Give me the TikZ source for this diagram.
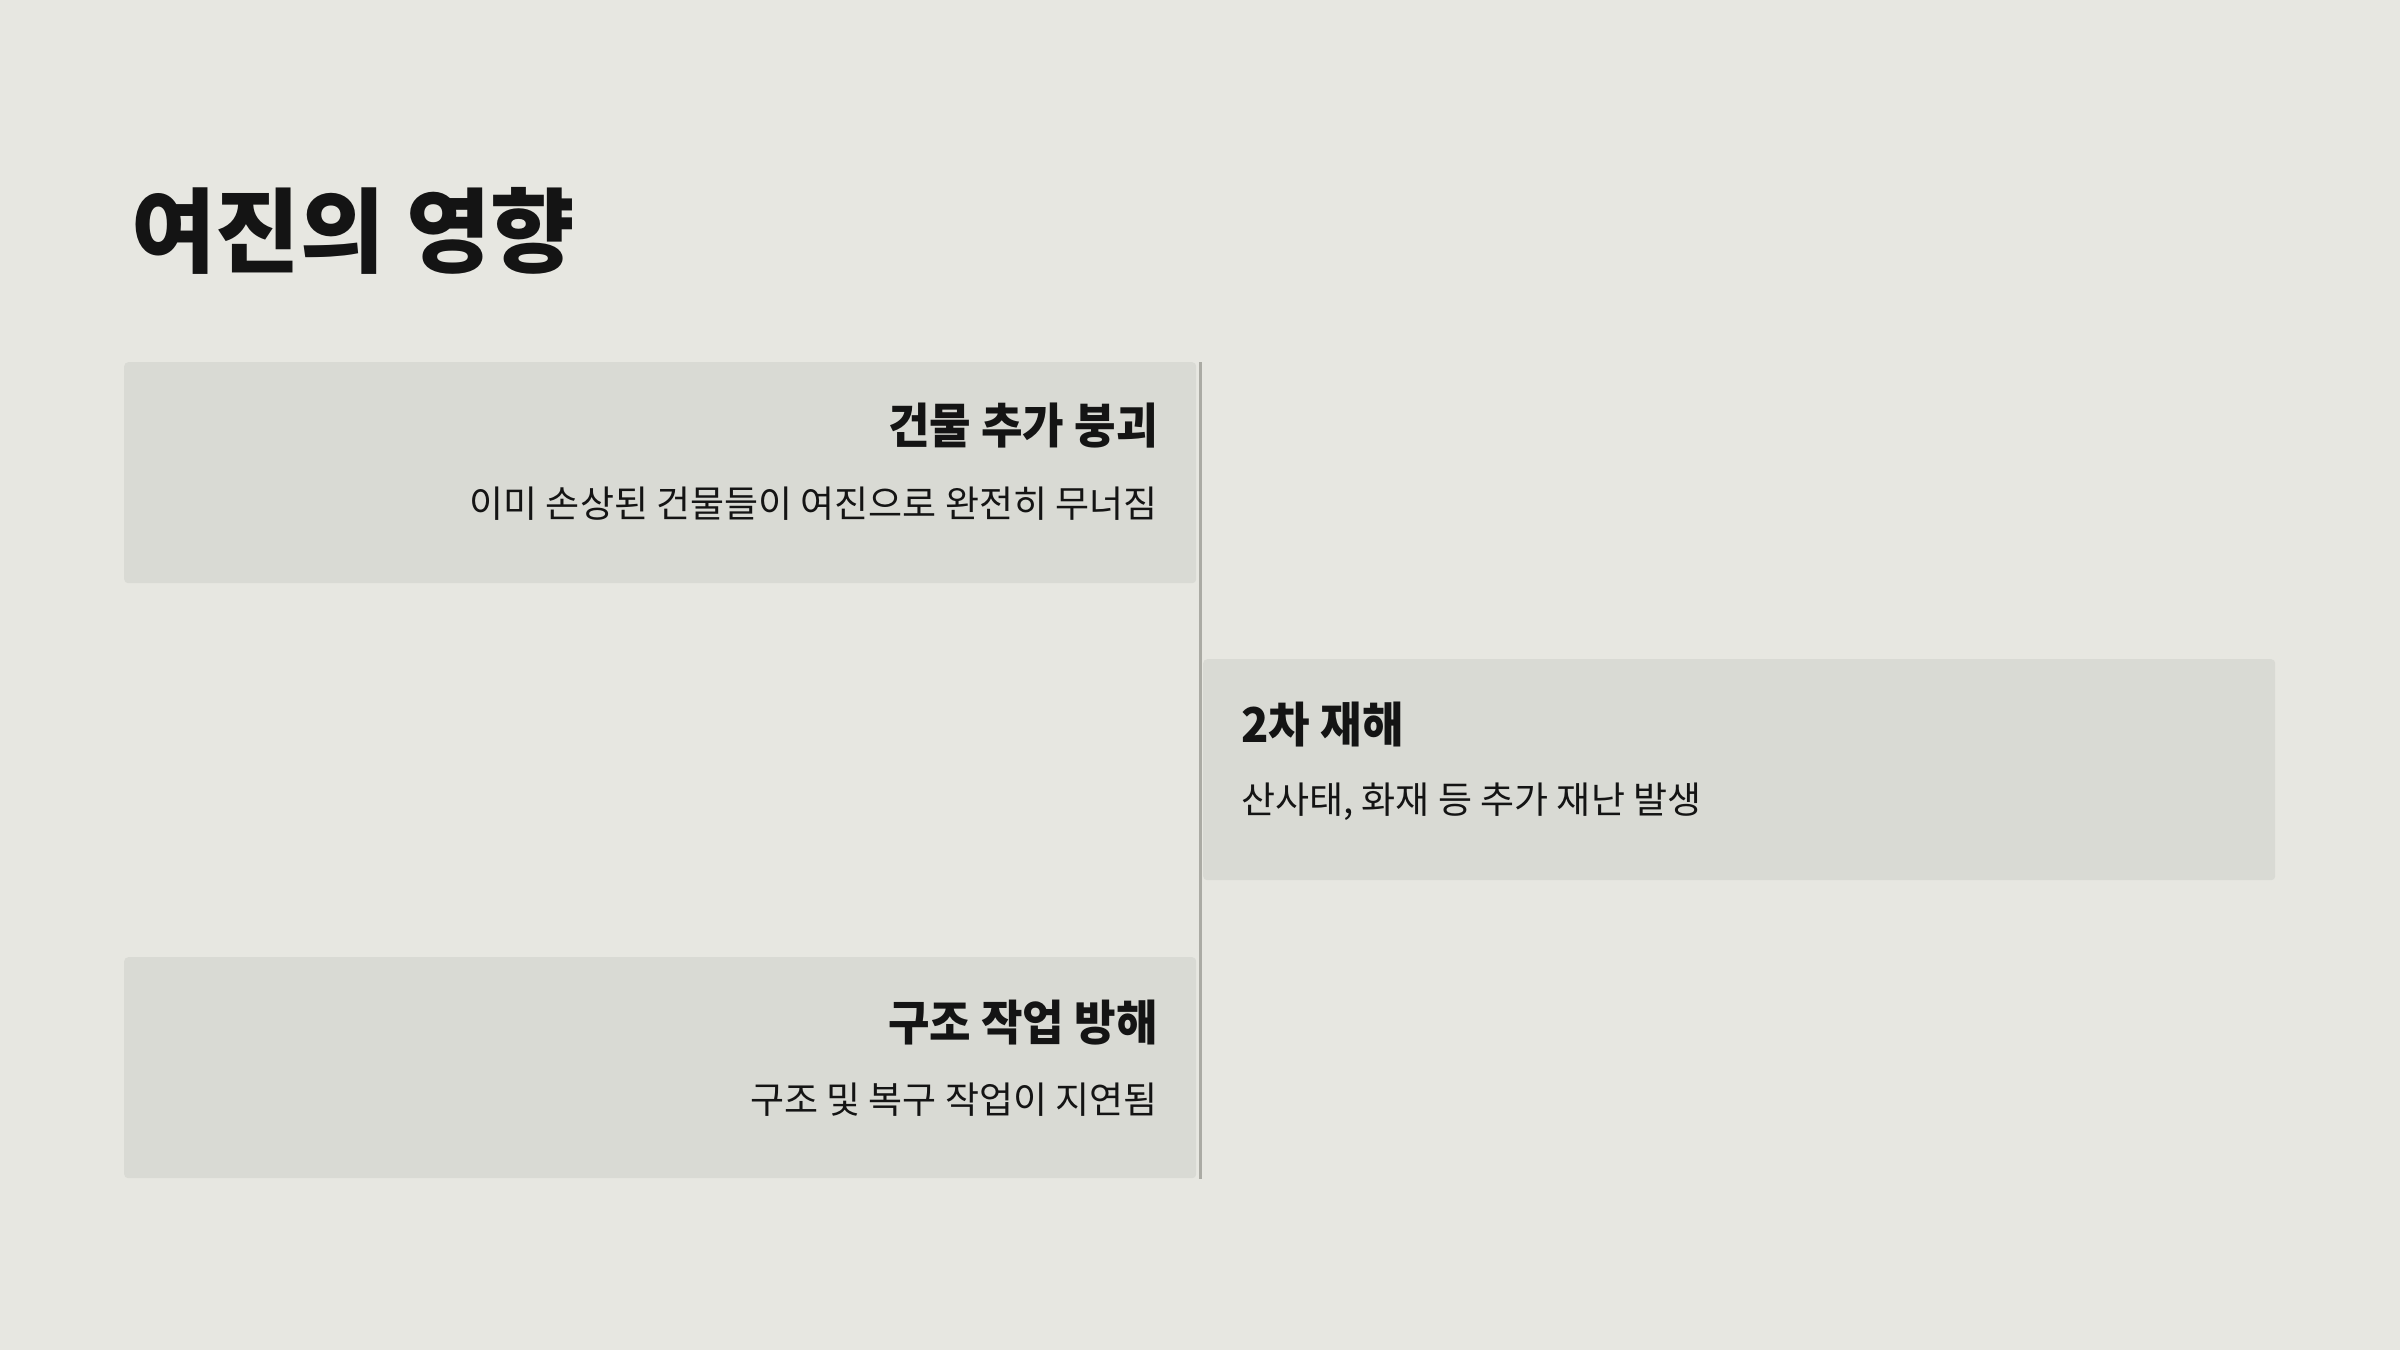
\documentclass[tikz,border=0pt]{standalone}
\usepackage{fontspec}
\setmainfont{Noto Sans CJK KR}
\newfontfamily\titlefont[FakeStretch=1.0]{Noto Sans CJK KR}
\newfontfamily\headfont[FakeStretch=0.94]{Noto Sans CJK KR}
\newfontfamily\bodyfont[FakeStretch=1.0]{Noto Sans CJK KR}
\definecolor{bgc}{HTML}{E7E7E1}
\definecolor{boxc}{HTML}{D9DAD4}
\definecolor{linec}{HTML}{ABABA4}
\definecolor{txtc}{HTML}{141414}
\tikzset{
  card/.style={fill=boxc, draw=none, rounded corners=4pt, minimum width=1072pt, minimum height=221pt, inner sep=0pt, anchor=north west},
  heading/.style={font=\headfont\bfseries\fontsize{48}{48}\selectfont, text=txtc, inner sep=0pt},
  body/.style={font=\bodyfont\fontsize{37}{37}\selectfont, text=txtc, inner sep=0pt},
  ttl/.style={font=\titlefont\bfseries\fontsize{92}{92}\selectfont, text=txtc, inner sep=0pt, anchor=west},
  timeline/.style={draw=linec, line width=3pt}
}
\begin{document}
\begin{tikzpicture}[x=1pt,y=-1pt]
\path[use as bounding box, fill=bgc] (0,0) rectangle (2400,1350);
\node[ttl] (title) at (131,231) {여진의 영향};
\node[card] (c1) at (124,362) {};
\node[card] (c2) at (1203,659) {};
\node[card] (c3) at (124,957) {};
\coordinate (ltop) at (1200,362);
\coordinate (lbot) at (1200,1179);
\draw[timeline] (ltop) -- (lbot);
\node[heading, anchor=east] (h1) at (1158,426) {건물 추가 붕괴};
\node[body, anchor=east] (b1) at (1158,504) {이미 손상된 건물들이 여진으로 완전히 무너짐};
\node[heading, anchor=west] (h2) at (1241,725) {2차 재해};
\node[body, anchor=west] (b2) at (1241,802) {산사태, 화재 등 추가 재난 발생};
\node[heading, anchor=east] (h3) at (1158,1023) {구조 작업 방해};
\node[body, anchor=east] (b3) at (1158,1100) {구조 및 복구 작업이 지연됨};
\end{tikzpicture}
\end{document}
